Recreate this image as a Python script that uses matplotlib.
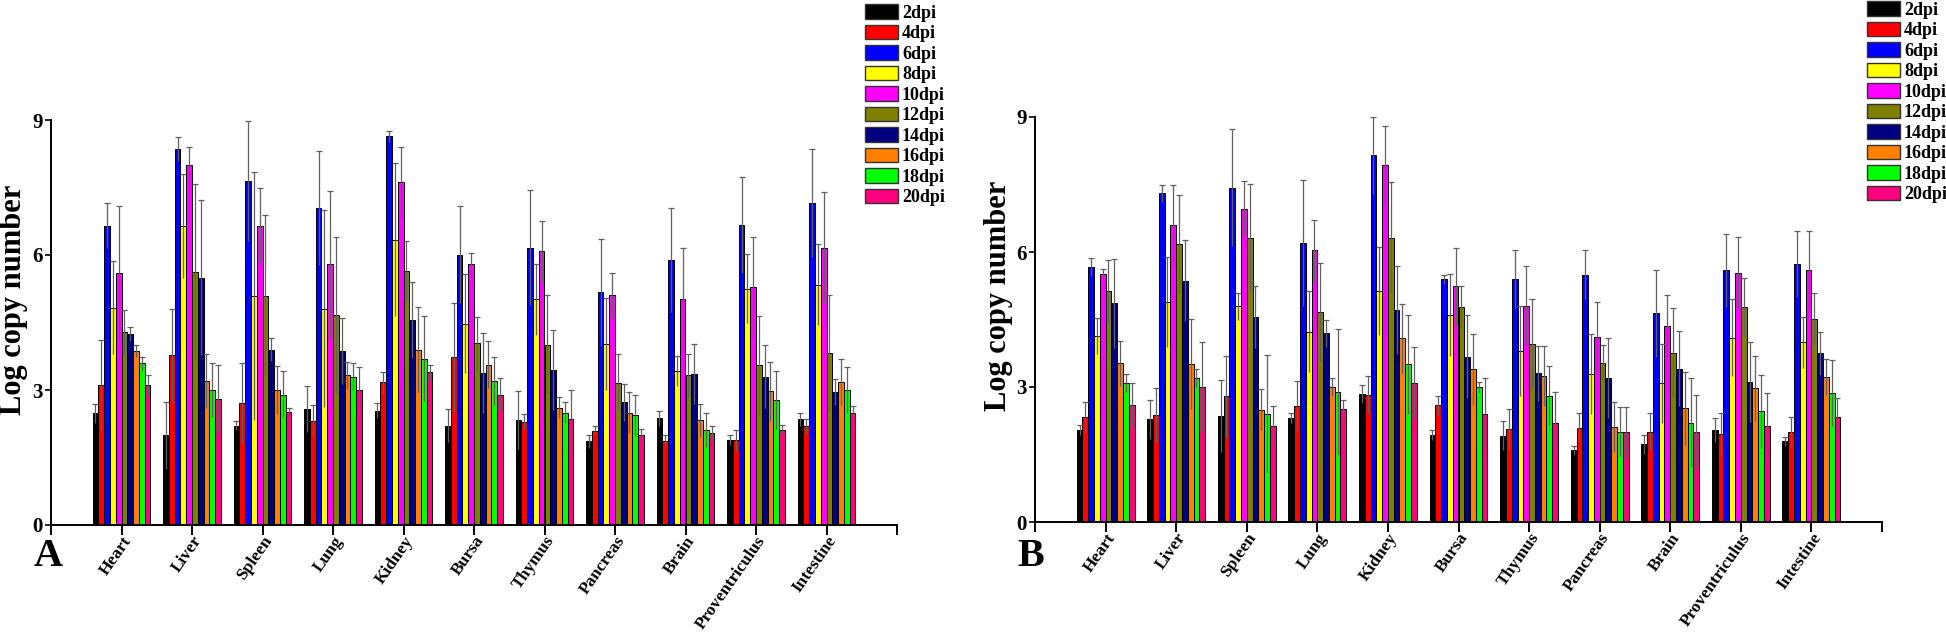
import numpy as np
import matplotlib
matplotlib.use('Agg')
import matplotlib.pyplot as plt

plt.rcParams['font.family'] = ['Liberation Serif', 'DejaVu Serif']
plt.rcParams['font.weight'] = 'bold'

tissues = ['Heart', 'Liver', 'Spleen', 'Lung', 'Kidney', 'Bursa', 'Thymus',
           'Pancreas', 'Brain', 'Proventriculus', 'Intestine']
dpi_labels = ['2dpi', '4dpi', '6dpi', '8dpi', '10dpi', '12dpi', '14dpi',
              '16dpi', '18dpi', '20dpi']
colours = ['#000000', '#ff0000', '#0000ff', '#ffff00', '#ff00ff', '#808000',
           '#000080', '#ff8000', '#00ff00', '#ff0080']

# panel A, one row per tissue, one column per time point
a_mean = [
    [2.48, 3.11, 6.65, 4.83, 5.60, 4.28, 4.24, 3.87, 3.59, 3.11],  # Heart
    [1.99, 3.77, 8.36, 6.65, 8.01, 5.62, 5.50, 3.20, 3.00, 2.80],  # Liver
    [2.21, 2.71, 7.64, 5.09, 6.64, 5.10, 3.90, 3.00, 2.90, 2.51],  # Spleen
    [2.57, 2.32, 7.04, 4.81, 5.79, 4.66, 3.87, 3.33, 3.30, 3.00],  # Lung
    [2.54, 3.17, 8.64, 6.34, 7.62, 5.64, 4.56, 3.90, 3.70, 3.39],  # Kidney
    [2.21, 3.73, 6.01, 4.47, 5.79, 4.04, 3.38, 3.56, 3.20, 2.90],  # Bursa
    [2.33, 2.30, 6.16, 5.02, 6.08, 4.01, 3.44, 2.61, 2.50, 2.35],  # Thymus
    [1.86, 2.09, 5.17, 4.02, 5.11, 3.16, 2.73, 2.50, 2.44, 2.00],  # Pancreas
    [2.37, 1.87, 5.89, 3.42, 5.03, 3.33, 3.36, 2.33, 2.12, 2.04],  # Brain
    [1.88, 1.88, 6.67, 5.25, 5.28, 3.55, 3.30, 2.97, 2.78, 2.12],  # Proventriculus
    [2.35, 2.19, 7.15, 5.34, 6.16, 3.82, 2.96, 3.18, 3.00, 2.50],  # Intestine
]
a_err = [
    [0.22, 1.00, 0.50, 1.03, 1.49, 0.50, 0.15, 0.14, 0.15, 0.22],
    [0.75, 1.03, 0.27, 1.15, 0.38, 1.96, 1.72, 0.60, 0.60, 0.75],
    [0.10, 0.88, 1.33, 2.76, 0.84, 1.78, 0.25, 0.53, 0.53, 0.08],
    [0.51, 0.35, 1.26, 2.19, 1.64, 1.75, 0.74, 0.30, 0.30, 0.52],
    [0.17, 0.24, 0.12, 1.70, 0.77, 0.67, 0.85, 0.94, 0.94, 0.16],
    [0.36, 1.21, 1.07, 1.10, 0.26, 0.59, 0.88, 0.52, 0.53, 0.36],
    [0.65, 0.16, 1.28, 0.79, 0.67, 1.10, 0.89, 0.24, 0.24, 0.66],
    [0.15, 0.10, 1.19, 1.02, 0.50, 0.64, 0.41, 0.45, 0.46, 0.14],
    [0.16, 0.13, 1.16, 0.34, 1.13, 0.48, 0.67, 0.37, 0.38, 0.16],
    [0.11, 0.24, 1.07, 0.77, 1.11, 1.10, 0.71, 0.66, 0.65, 0.10],
    [0.15, 0.16, 1.20, 0.90, 1.23, 1.29, 0.29, 0.52, 0.52, 0.14],
]

# panel B
b_mean = [
    [2.04, 2.34, 5.67, 4.13, 5.52, 5.13, 4.86, 3.53, 3.10, 2.61],  # Heart
    [2.28, 2.38, 7.31, 4.90, 6.59, 6.18, 5.36, 3.51, 3.20, 3.01],  # Liver
    [2.36, 2.79, 7.43, 4.79, 6.96, 6.32, 4.56, 2.50, 2.41, 2.13],  # Spleen
    [2.31, 2.58, 6.21, 4.23, 6.04, 4.67, 4.19, 3.00, 2.90, 2.51],  # Lung
    [2.85, 2.83, 8.15, 5.13, 7.93, 6.32, 4.72, 4.08, 3.51, 3.10],  # Kidney
    [1.93, 2.59, 5.39, 4.61, 5.24, 4.78, 3.67, 3.39, 3.00, 2.41],  # Bursa
    [1.92, 2.06, 5.39, 3.81, 4.81, 3.96, 3.31, 3.24, 2.81, 2.21],  # Thymus
    [1.59, 2.10, 5.50, 3.29, 4.11, 3.53, 3.21, 2.11, 2.01, 1.99],  # Pancreas
    [1.73, 2.01, 4.64, 3.08, 4.35, 3.76, 3.41, 2.53, 2.21, 2.01],  # Brain
    [2.05, 1.96, 5.59, 4.10, 5.54, 4.78, 3.11, 2.97, 2.46, 2.13],  # Proventriculus
    [1.79, 1.99, 5.74, 3.99, 5.59, 4.52, 3.75, 3.22, 2.87, 2.33],  # Intestine
]
b_err = [
    [0.11, 0.33, 0.20, 0.40, 0.10, 0.70, 0.99, 0.50, 0.20, 0.49],
    [0.43, 0.60, 0.19, 1.00, 0.90, 1.09, 0.90, 1.00, 0.21, 1.00],
    [0.80, 0.89, 1.30, 0.30, 0.61, 1.20, 0.69, 0.46, 1.30, 0.45],
    [0.11, 0.55, 1.40, 0.90, 0.68, 1.09, 0.31, 0.21, 1.40, 0.21],
    [0.20, 0.41, 0.86, 0.98, 0.87, 1.24, 0.98, 0.76, 1.10, 0.78],
    [0.11, 0.22, 0.11, 0.91, 0.86, 0.46, 0.92, 0.79, 0.11, 0.78],
    [0.32, 0.45, 0.65, 1.00, 0.87, 0.99, 0.61, 0.67, 0.66, 0.67],
    [0.11, 0.32, 0.54, 0.89, 0.78, 0.40, 0.89, 0.56, 0.54, 0.56],
    [0.21, 0.41, 0.97, 0.88, 0.70, 0.99, 0.84, 0.81, 0.98, 0.81],
    [0.27, 0.47, 0.81, 0.85, 0.79, 0.65, 0.89, 0.73, 0.81, 0.73],
    [0.10, 0.34, 0.73, 0.56, 0.88, 0.58, 0.48, 0.40, 0.74, 0.42],
]

W, H = 1946, 632
fig = plt.figure(figsize=(W / 100, H / 100), dpi=100)


def draw_panel(left, right, y0, y9, means, errs, letter, ylabel_x, ylabel_y,
               legend_x, legend_y):
    ax = fig.add_axes([left / W, 1 - y0 / H, (right - left) / W, (y0 - y9) / H])
    means = np.array(means)
    errs = np.array(errs)
    n = len(tissues)
    width = 0.082
    base = np.arange(n)
    for j, (lab, col) in enumerate(zip(dpi_labels, colours)):
        x = base + (j - 4.5) * width
        ax.bar(x, means[:, j], width, color=col, edgecolor='black',
               linewidth=0.7, label=lab, zorder=2)
        eb = ax.errorbar(x, means[:, j], yerr=errs[:, j], fmt='none',
                         ecolor='#606060', elinewidth=0.9, capsize=2.2,
                         capthick=0.9, zorder=3)
        eb[1][0].set_visible(False)  # no cap at the lower end

    ax.set_xlim(-1, n)
    ax.set_ylim(0, 9)
    ax.set_xticks(np.arange(-1, n + 1))
    ax.set_xticklabels([''] + tissues + [''], rotation=55, ha='right',
                       va='top', rotation_mode='anchor', fontsize=12.5,
                       fontweight='bold')
    ax.set_yticks([0, 3, 6, 9])
    ax.set_yticklabels(['0', '3', '6', '9'], fontsize=15, fontweight='bold')
    for side in ('top', 'right'):
        ax.spines[side].set_visible(False)
    for side in ('left', 'bottom'):
        ax.spines[side].set_linewidth(1.4)
    ax.tick_params('x', length=7, width=1.4, direction='out', pad=-1)
    ax.tick_params('y', length=4, width=1.2, direction='out', pad=2)
    ax.patch.set_visible(False)

    fig.text(ylabel_x / W, 1 - ylabel_y / H, 'Log copy number', rotation=90,
             ha='center', va='center', fontsize=22, fontweight='bold')
    fig.text(left / W - 0.009, 1 - 557 / H, letter, ha='left', va='center',
             fontsize=29, fontweight='bold')

    leg = ax.legend(loc='upper left', bbox_to_anchor=(legend_x / W, 1 - legend_y / H),
                    bbox_transform=fig.transFigure, frameon=False,
                    fontsize=13, handlelength=1.8, handleheight=0.88,
                    handletextpad=0.25, labelspacing=0.16, borderpad=0,
                    borderaxespad=0)
    for patch in leg.get_patches():
        patch.set_edgecolor('#333333')
        patch.set_linewidth(1.0)
    return ax


draw_panel(51, 897, 525, 120, a_mean, a_err, 'A', 14, 300, 865, 4)
draw_panel(1035, 1882, 522, 117, b_mean, b_err, 'B', 998, 296, 1867, 1)

fig.savefig('out.png', dpi=100)
